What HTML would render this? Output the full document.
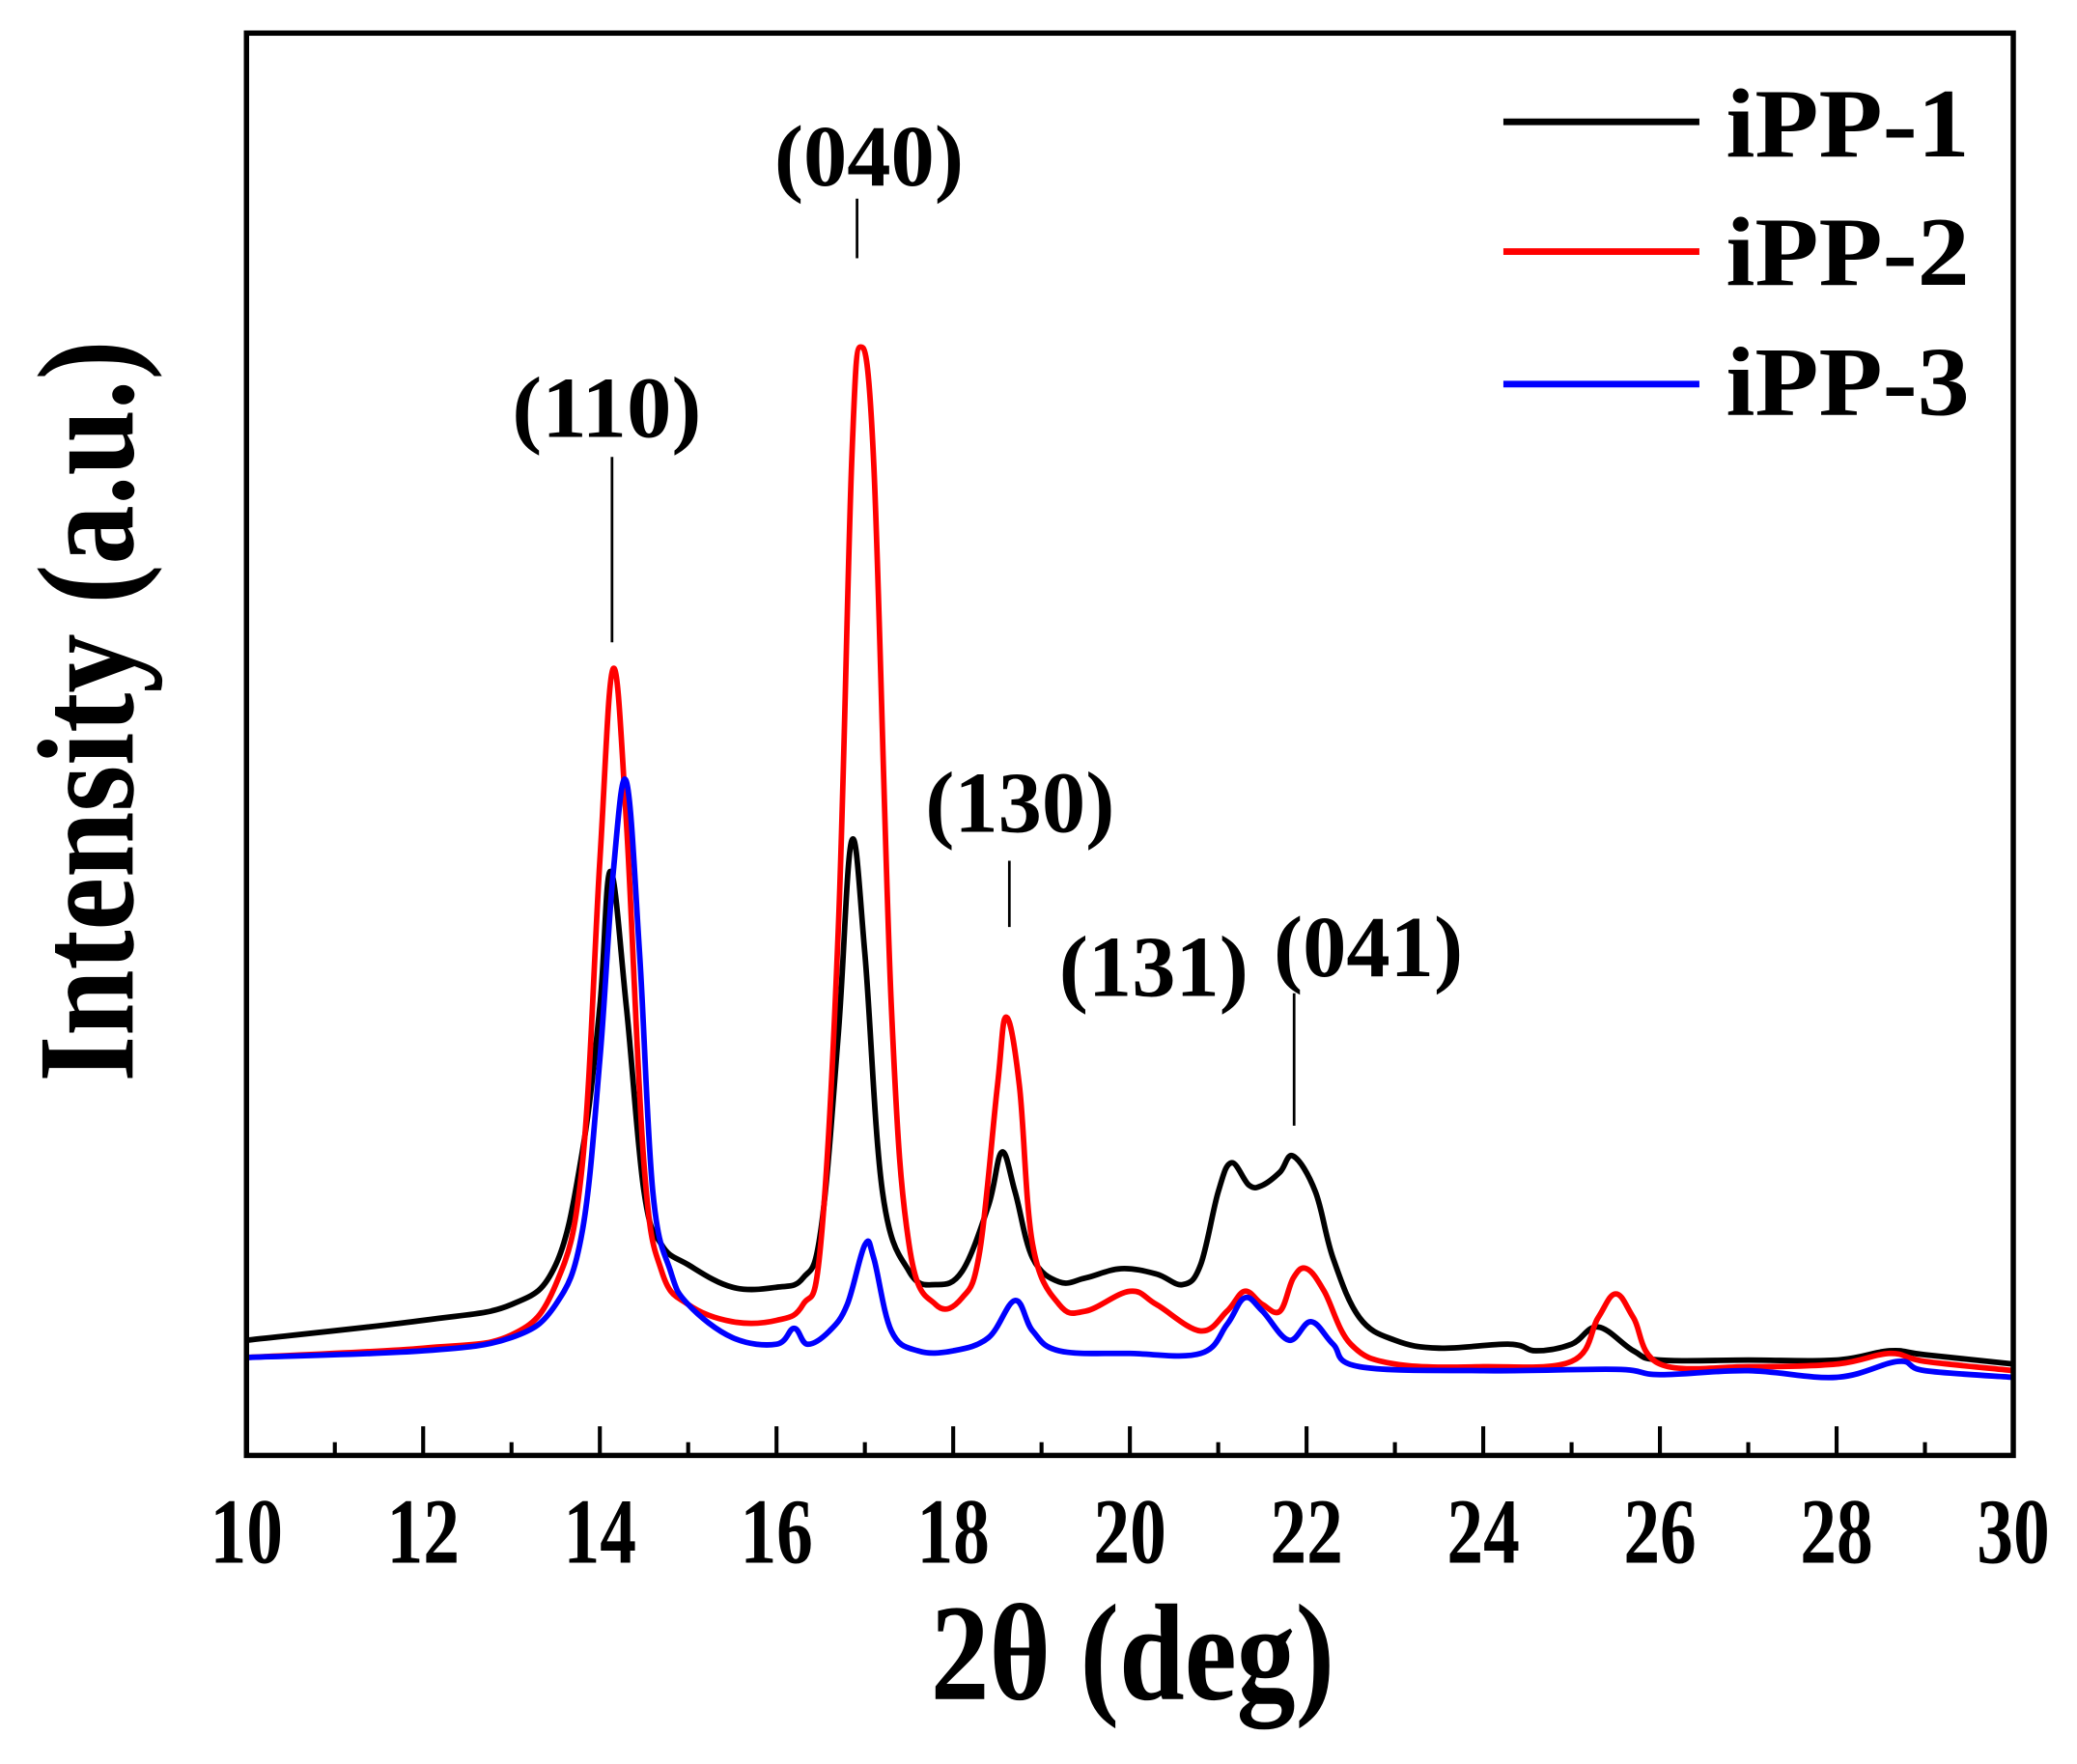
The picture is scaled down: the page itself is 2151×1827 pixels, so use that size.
<!DOCTYPE html>
<html><head><meta charset="utf-8"><style>html,body{margin:0;padding:0;background:#fff}svg{display:block}</style></head>
<body>
<svg width="2151" height="1827" viewBox="0 0 1568 1332" xmlns="http://www.w3.org/2000/svg" font-family="Liberation Serif, serif" font-weight="bold">
<rect width="1568" height="1332" fill="#fff"/>
<g id="curves" fill="none" stroke-width="4.2" stroke-linejoin="round"></g>
<rect x="186" y="25" width="1334" height="1074" fill="none" stroke="#000" stroke-width="4"/>
<g id="ticks" stroke="#000" stroke-width="3"></g>
<g font-size="70" text-anchor="middle" id="tl"></g>
<text x="855" y="1283" font-size="104" text-anchor="middle" textLength="305" lengthAdjust="spacingAndGlyphs">2θ (deg)</text>
<text transform="translate(100,537) rotate(-90)" font-size="104" text-anchor="middle" textLength="560" lengthAdjust="spacingAndGlyphs">Intensity (a.u.)</text>
<line x1="1135" y1="92" x2="1283" y2="92" stroke="#000" stroke-width="5"/>
<line x1="1135" y1="190" x2="1283" y2="190" stroke="#f00" stroke-width="5"/>
<line x1="1135" y1="290" x2="1283" y2="290" stroke="#00f" stroke-width="5"/>
<g font-size="74">
<text x="1303" y="118" textLength="184" lengthAdjust="spacingAndGlyphs">iPP-1</text>
<text x="1303" y="215" textLength="184" lengthAdjust="spacingAndGlyphs">iPP-2</text>
<text x="1303" y="313" textLength="184" lengthAdjust="spacingAndGlyphs">iPP-3</text>
</g>
<g font-size="66" text-anchor="middle">
<text x="458" y="330" textLength="143" lengthAdjust="spacingAndGlyphs">(110)</text>
<text x="656" y="140" textLength="143" lengthAdjust="spacingAndGlyphs">(040)</text>
<text x="770" y="628" textLength="143" lengthAdjust="spacingAndGlyphs">(130)</text>
<text x="871" y="752" textLength="143" lengthAdjust="spacingAndGlyphs">(131)</text>
<text x="1033" y="737" textLength="143" lengthAdjust="spacingAndGlyphs">(041)</text>
</g>
<g stroke="#000" stroke-width="2">
<line x1="462" y1="345" x2="462" y2="485"/>
<line x1="647" y1="150" x2="647" y2="195"/>
<line x1="762" y1="650" x2="762" y2="700"/>
<line x1="977" y1="750" x2="977" y2="850"/>
</g>
</svg>
<script>
const NS="http://www.w3.org/2000/svg";
const X=x=>186+(x-10)*66.7;
const data={
"#000":[[10,1012],[12,997],[13,985],[13.5,955],[13.8,870],[14,760],[14.12,658],[14.3,760],[14.5,900],[14.7,940],[15,955],[15.5,972],[16,972],[16.3,965],[16.5,930],[16.7,780],[16.85,635],[17,720],[17.2,900],[17.5,960],[17.8,970],[18.1,960],[18.4,910],[18.55,870],[18.7,900],[18.9,950],[19.2,968],[19.5,965],[19.9,958],[20.3,962],[20.6,970],[20.8,955],[21,900],[21.15,878],[21.35,895],[21.5,895],[21.7,885],[21.85,873],[22.1,900],[22.3,950],[22.6,995],[23,1012],[23.5,1018],[24.3,1015],[24.6,1020],[25,1015],[25.3,1002],[25.7,1020],[26,1027],[27,1027],[28,1027],[28.6,1020],[29,1023],[30,1030]],
"#f00":[[10,1025],[12,1018],[13,1008],[13.5,970],[13.8,880],[14,650],[14.15,505],[14.3,620],[14.5,880],[14.7,960],[15,985],[15.5,998],[16,997],[16.3,985],[16.5,940],[16.7,700],[16.85,350],[16.95,262],[17.1,350],[17.3,760],[17.5,940],[17.8,985],[18.1,980],[18.3,945],[18.5,820],[18.6,768],[18.75,820],[18.9,940],[19.2,985],[19.5,990],[20,975],[20.3,985],[20.8,1005],[21.1,990],[21.3,975],[21.5,985],[21.7,990],[21.85,965],[22,958],[22.2,975],[22.5,1015],[23,1030],[24,1032],[25,1028],[25.3,995],[25.5,977],[25.7,995],[26,1030],[27,1032],[28,1030],[28.6,1022],[29,1028],[30,1035]],
"#00f":[[10,1025],[12,1020],[13,1010],[13.5,985],[13.8,930],[14,800],[14.15,660],[14.3,590],[14.45,720],[14.6,900],[14.8,960],[15,985],[15.5,1010],[16,1015],[16.2,1003],[16.35,1015],[16.6,1005],[16.8,985],[17,940],[17.1,950],[17.3,1005],[17.6,1020],[18,1020],[18.4,1010],[18.7,982],[18.9,1005],[19.2,1020],[20,1022],[20.8,1022],[21.1,1000],[21.3,980],[21.5,990],[21.8,1012],[22.05,998],[22.3,1015],[22.6,1032],[24,1035],[25.5,1034],[26,1038],[27,1035],[28,1040],[28.7,1028],[29,1035],[30,1040]]};
const g=document.getElementById("curves");
function smooth(pts){let d="M"+pts[0][0].toFixed(1)+","+pts[0][1];
for(let i=0;i<pts.length-1;i++){const p0=pts[Math.max(0,i-1)],p1=pts[i],p2=pts[i+1],p3=pts[Math.min(pts.length-1,i+2)];
const t=0.18;const c1=[p1[0]+(p2[0]-p0[0])*t,p1[1]+(p2[1]-p0[1])*t],c2=[p2[0]-(p3[0]-p1[0])*t,p2[1]-(p3[1]-p1[1])*t];
d+="C"+c1[0].toFixed(1)+","+c1[1].toFixed(1)+" "+c2[0].toFixed(1)+","+c2[1].toFixed(1)+" "+p2[0].toFixed(1)+","+p2[1];}
return d;}
for(const c in data){const p=document.createElementNS(NS,"path");
p.setAttribute("d",smooth(data[c].map(q=>[X(q[0]),q[1]])));p.setAttribute("stroke",c);g.appendChild(p);}
const t=document.getElementById("ticks"),tl=document.getElementById("tl");
for(let v=10;v<=30;v++){const l=document.createElementNS(NS,"line");const x=X(v);
l.setAttribute("x1",x);l.setAttribute("x2",x);l.setAttribute("y1",1099);l.setAttribute("y2",v%2?1089:1077);t.appendChild(l);
if(v%2==0){const s=document.createElementNS(NS,"text");s.setAttribute("x",x);s.setAttribute("y",1180);
s.setAttribute("textLength",55);s.setAttribute("lengthAdjust","spacingAndGlyphs");s.textContent=v;tl.appendChild(s);}}
</script>
</body></html>
